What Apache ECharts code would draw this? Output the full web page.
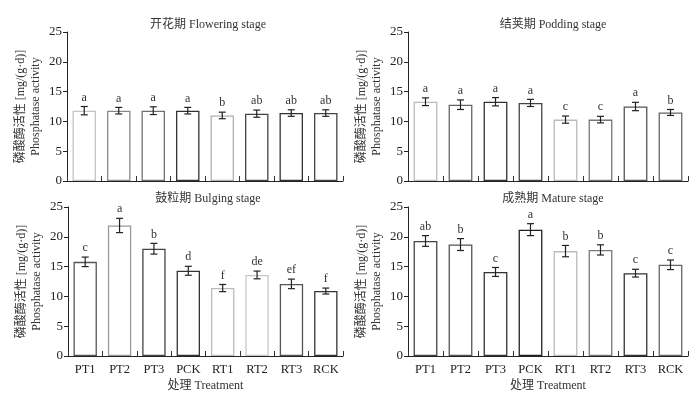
<!DOCTYPE html>
<html><head><meta charset="utf-8">
<script src="https://cdn.jsdelivr.net/npm/echarts@6/dist/echarts.min.js"></script>
<style>html,body{margin:0;padding:0;background:#fff}#c{width:700px;height:393px}</style>
</head><body><div id="c"></div>
<script>
var categories = ['PT1','PT2','PT3','PCK','RT1','RT2','RT3','RCK'];
var yTicks = [0,5,10,15,20,25];

var floweringTitle = '开花期 Flowering stage';
var flowering = [11.8,11.8,11.8,11.8,11.0,11.3,11.4,11.4];
var floweringErr = [0.7,0.55,0.65,0.55,0.55,0.6,0.55,0.55];
var floweringSig = ['a','a','a','a','b','ab','ab','ab'];

var poddingTitle = '结荚期 Podding stage';
var podding = [13.3,12.8,13.3,13.1,10.3,10.3,12.5,11.5];
var poddingErr = [0.65,0.8,0.7,0.6,0.6,0.55,0.7,0.5];
var poddingSig = ['a','a','a','a','c','c','a','b'];

var bulgingTitle = '鼓粒期 Bulging stage';
var bulging = [15.8,21.9,18.0,14.3,11.4,13.6,12.1,10.9];
var bulgingErr = [0.8,1.2,0.9,0.75,0.6,0.65,0.8,0.5];
var bulgingSig = ['c','a','b','d','f','de','ef','f'];

var matureTitle = '成熟期 Mature stage';
var mature = [19.3,18.7,14.1,21.2,17.6,17.8,13.9,15.3];
var matureErr = [0.9,1.0,0.75,1.0,0.95,0.85,0.65,0.8];
var matureSig = ['ab','b','c','a','b','b','c','c'];

var yName = '磷酸酶活性 [mg/(g·d)]\nPhosphatase activity';
var xName = '处理 Treatment';

// styling (not data)
var FONT = '"Liberation Serif","Noto Sans CJK SC",serif';
var borderColors = [
  ['#c4c4c4','#8a8a8a','#707070','#333','#b0b0b0','#444','#333','#444'],
  ['#bbb','#666','#333','#444','#bbb','#777','#555','#666'],
  ['#555','#9a9a9a','#444','#333','#bbb','#c8c8c8','#555','#333'],
  ['#444','#555','#333','#222','#bbb','#777','#333','#666']
];
var grids = [
  {left:67, right:357, top:32, bottom:212},
  {left:408, right:12, top:32, bottom:212},
  {left:68, right:357, top:207, bottom:37},
  {left:408, right:12, top:207, bottom:37}
];
var panels = [
  {title:floweringTitle, vals:flowering, err:floweringErr, sig:floweringSig, tx:203, ty:14},
  {title:poddingTitle, vals:podding, err:poddingErr, sig:poddingSig, tx:548, ty:14},
  {title:bulgingTitle, vals:bulging, err:bulgingErr, sig:bulgingSig, tx:203, ty:188},
  {title:matureTitle, vals:mature, err:matureErr, sig:matureSig, tx:548, ty:188}
];

function makeRender(sig){
  return function(params, api){
    var x = api.value(0), v = api.value(1), e = api.value(2);
    var hi = api.coord([x, v + e]), lo = api.coord([x, v - e]);
    var w = 3.5, st = {stroke:'#222', lineWidth:1.2};
    return {type:'group', children:[
      {type:'line', shape:{x1:hi[0],y1:hi[1],x2:lo[0],y2:lo[1]}, style:st},
      {type:'line', shape:{x1:hi[0]-w,y1:hi[1],x2:hi[0]+w,y2:hi[1]}, style:st},
      {type:'line', shape:{x1:lo[0]-w,y1:lo[1],x2:lo[0]+w,y2:lo[1]}, style:st},
      {type:'text', style:{text:sig[params.dataIndex], x:hi[0], y:hi[1]-3, align:'center', verticalAlign:'bottom',
        fontFamily:FONT, fontSize:12, fill:'#333'}}
    ]};
  };
}

var option = {animation:false, backgroundColor:'#fff', title:[], grid:[], xAxis:[], yAxis:[], series:[]};
panels.forEach(function(p, k){
  var g = grids[k];
  option.title.push({text:p.title, left:p.tx, top:p.ty, textAlign:'center',
    textStyle:{fontFamily:FONT, fontSize:12, fontWeight:'normal', color:'#333'}});
  option.grid.push({left:g.left, right:g.right, top:g.top, bottom:g.bottom, containLabel:false});
  var bottomRow = k >= 2;
  option.xAxis.push({type:'category', gridIndex:k, data:categories,
    axisLine:{lineStyle:{color:'#222', width:1}},
    axisTick:{show:true, inside:true, length:5, lineStyle:{color:'#333'}},
    axisLabel:{show:bottomRow, interval:0, margin:7, fontFamily:FONT, fontSize:12.5, color:'#222'},
    name: bottomRow ? xName : '', nameLocation:'middle', nameGap:24,
    nameTextStyle:{fontFamily:FONT, fontSize:12, color:'#333'}});
  option.yAxis.push({type:'value', gridIndex:k, min:yTicks[0], max:yTicks[yTicks.length-1], interval:5,
    axisLine:{show:true, lineStyle:{color:'#222', width:1}},
    axisTick:{show:true, inside:false, length:4, lineStyle:{color:'#222'}},
    axisLabel:{margin:5, fontFamily:FONT, fontSize:13, color:'#222'},
    splitLine:{show:false},
    name:yName, nameLocation:'middle', nameRotate:90, nameGap:24,
    nameTextStyle:{fontFamily:FONT, fontSize:12, color:'#333', lineHeight:15}});
  option.series.push({type:'bar', xAxisIndex:k, yAxisIndex:k, barWidth:'68%',
    data:p.vals.map(function(v,i){return {value:v, itemStyle:{color:'#fff', borderColor:borderColors[k][i], borderWidth:1.3}};}),
    silent:true});
  option.series.push({type:'custom', xAxisIndex:k, yAxisIndex:k, renderItem:makeRender(p.sig),
    data:p.vals.map(function(v,i){return [i, v, p.err[i]];}), z:5, silent:true});
});
var chart = echarts.init(document.getElementById('c'), null, {renderer:'canvas'});
chart.setOption(option);
</script></body></html>
